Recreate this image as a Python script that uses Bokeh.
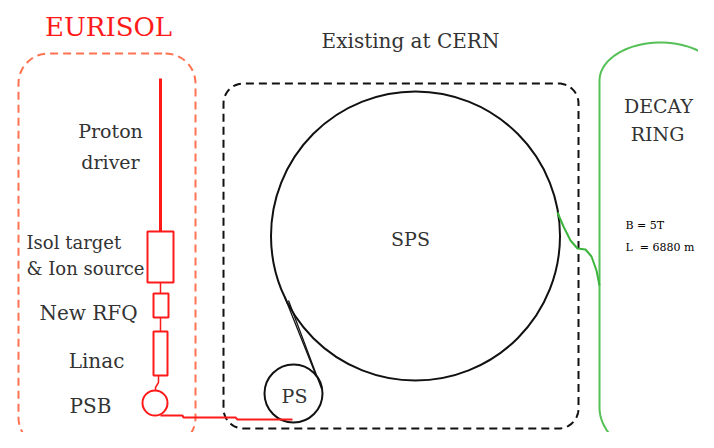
import numpy as np
from bokeh.plotting import figure
from bokeh.models import Range1d
from bokeh.core.properties import value
from bokeh.embed import file_html
from bokeh.resources import INLINE

# ---- diagram content ----
title_text = ["EURISOL"]
group_titles = ["Existing at CERN"]
linac_labels = ["Proton", "driver", "Isol target", "& Ion source", "New RFQ", "Linac", "PSB"]
ring_names = ["SPS", "PS"]
decay_labels = ["DECAY", "RING"]
decay_params = ["B = 5T", "L \u00a0= 6880 m"]

# ---- geometry (reference pixel frame) ----
eurisol_box = dict(x0=18, x1=195, y0=53, y1=447, r=30)
cern_box = dict(x0=223, x1=578, y0=83, y1=428, r=20)
ring_cx = [415, 293, 154.5]
ring_cy = [235.5, 393, 402.5]
ring_r = [144.5, 29, 12.5]
box_left = [147, 153, 153]
box_right = [173, 168, 167]
box_top = [231, 293, 331]
box_bottom = [282, 317, 375]

SERIF = value("DejaVu Serif")
RED = "#ff1a1a"
ORANGE = "#ff7352"
GREEN = "#3cb43c"
TXT = "#333333"

p = figure(width=698, height=432, x_range=Range1d(0, 698), y_range=Range1d(432, 0),
           output_backend="svg", toolbar_location=None, min_border=0)
p.axis.visible = False
p.grid.visible = False
p.outline_line_color = None
p.background_fill_color = "white"


def rounded_rect(x0, x1, y0, y1, r, n=16):
    xs, ys = [], []
    corners = [(x1 - r, y0 + r, -90, 0), (x1 - r, y1 - r, 0, 90),
               (x0 + r, y1 - r, 90, 180), (x0 + r, y0 + r, 180, 270)]
    for cx, cy, a0, a1 in corners:
        t = np.radians(np.linspace(a0, a1, n))
        xs += list(cx + r * np.cos(t))
        ys += list(cy + r * np.sin(t))
    xs.append(xs[0]); ys.append(ys[0])
    return xs, ys


# EURISOL dashed box
ex, ey = rounded_rect(**eurisol_box)
p.line(ex, ey, line_color=ORANGE, line_width=2, line_dash="8 5")
# CERN dashed box
cx_, cy_ = rounded_rect(**cern_box)
p.line(cx_, cy_, line_color="#111111", line_width=2, line_dash="8 5")

# decay ring (stadium with elliptic ends)
t = np.radians(np.linspace(180, 360, 40))
top_x = 660 + 61 * np.cos(t)
top_y = 80 + 38 * np.sin(t)
t2 = np.radians(np.linspace(0, 180, 40))
bot_x = 660 + 61 * np.cos(t2)
bot_y = 407 + 48 * np.sin(t2)
dx = list(top_x) + list(bot_x)
dy = list(top_y) + list(bot_y)
dx.append(dx[0]); dy.append(dy[0])
p.line(dx, dy, line_color="#55c055", line_width=2)

# rings
p.circle(ring_cx[:2], ring_cy[:2], radius=ring_r[:2], fill_color=None,
         line_color="#111111", line_width=2)
p.circle(ring_cx[2:], ring_cy[2:], radius=ring_r[2:], fill_color=None,
         line_color=RED, line_width=2)

# transfer line PS -> SPS (double)
p.line([284, 316], [296, 376], line_color="#111111", line_width=1.3)
p.line([288, 321], [300, 388], line_color="#111111", line_width=1.3)

# SPS -> decay ring (green)
p.line([557, 563, 570, 577, 585, 591, 596, 599],
       [212, 226, 240, 248, 249, 256, 270, 285], line_color=GREEN, line_width=2)

# proton driver & linac chain
p.line([160, 160], [78, 231], line_color=RED, line_width=3)
p.quad(left=box_left, right=box_right, top=box_top, bottom=box_bottom,
       fill_color=None, line_color=RED, line_width=2)
p.line([160, 160], [282, 293], line_color=RED, line_width=1.5)
p.line([160, 160], [317, 331], line_color=RED, line_width=1.5)
p.line([158, 158, 155, 155], [375, 382, 387, 390], line_color=RED, line_width=1.5)
# PSB -> PS transfer
p.line([160, 182, 183, 235, 237, 292], [415, 415, 417, 417, 419, 419],
       line_color=RED, line_width=2)

# texts
p.text(x=[108], y=[26], text=title_text, text_color=RED, text_font=SERIF,
       text_font_size="26px", text_align="center", text_baseline="middle")
p.text(x=[410], y=[40], text=group_titles, text_color=TXT, text_font=SERIF,
       text_font_size="20px", text_align="center", text_baseline="middle")
p.text(x=[110, 110], y=[130, 161], text=linac_labels[:2], text_color=TXT, text_font=SERIF,
       text_font_size="19px", text_align="center", text_baseline="middle")
p.text(x=[26, 26], y=[242, 268], text=linac_labels[2:4], text_color=TXT, text_font=SERIF,
       text_font_size="18px", text_align="left", text_baseline="middle")
p.text(x=[88, 96, 90], y=[312, 360, 405], text=linac_labels[4:], text_color=TXT, text_font=SERIF,
       text_font_size="20px", text_align="center", text_baseline="middle")
p.text(x=[410, 294], y=[238, 395], text=ring_names, text_color=TXT, text_font=SERIF,
       text_font_size="19px", text_align="center", text_baseline="middle")
p.text(x=[658, 657], y=[105, 133], text=decay_labels, text_color=TXT, text_font=SERIF,
       text_font_size="19px", text_align="center", text_baseline="middle")
p.text(x=[625, 625], y=[225, 247], text=decay_params, text_color="#000000", text_font=SERIF,
       text_font_size="11px", text_align="left", text_baseline="middle")

open("out.html", "w").write(file_html(p, INLINE))
